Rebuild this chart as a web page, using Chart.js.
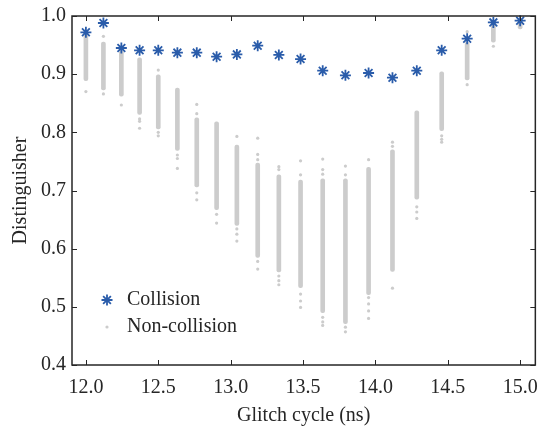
<!DOCTYPE html>
<html>
<head>
<meta charset="utf-8">
<script src="https://cdn.jsdelivr.net/npm/chart.js@4.4.0/dist/chart.umd.min.js"></script>
<style>
  html, body { margin: 0; padding: 0; background: #fff; }
</style>
</head>
<body>
<canvas id="myChart" width="549" height="426"></canvas>
<script>
// glitch cycle of each tested clock (ns)
const glitchCycle = [12.000, 12.121, 12.245, 12.371, 12.500, 12.632, 12.766, 12.903, 13.043, 13.187,
  13.333, 13.483, 13.636, 13.793, 13.953, 14.118, 14.286, 14.458, 14.634, 14.815, 15.000];

// distinguisher of the collision key
const collision = [0.972, 0.988, 0.945, 0.941, 0.941, 0.937, 0.937, 0.930, 0.934, 0.949,
  0.933, 0.926, 0.906, 0.898, 0.902, 0.894, 0.906, 0.941, 0.961, 0.989, 0.992];

// dense range of the non-collision keys
const nonCollisionHigh = [0.968, 0.955, 0.940, 0.928, 0.899, 0.876, 0.825, 0.818, 0.778, 0.747,
  0.727, 0.718, 0.720, 0.720, 0.740, 0.770, 0.837, 0.904, 0.955, 0.990, 0.995];
const nonCollisionLow = [0.889, 0.873, 0.862, 0.831, 0.806, 0.769, 0.706, 0.667, 0.640, 0.585,
  0.560, 0.533, 0.490, 0.471, 0.521, 0.561, 0.685, 0.803, 0.890, 0.955, 0.978];

// isolated non-collision values outside the dense range
const nonCollisionStray = [
  [0.870],
  [0.965, 0.866],
  [0.847],
  [0.823, 0.819, 0.807],
  [0.907, 0.800, 0.794],
  [0.761, 0.755, 0.738],
  [0.848, 0.832, 0.696, 0.684],
  [0.659, 0.644],
  [0.793, 0.634, 0.625, 0.613],
  [0.790, 0.762, 0.753, 0.578, 0.565],
  [0.741, 0.736, 0.553, 0.545, 0.538],
  [0.751, 0.727, 0.522, 0.510, 0.499],
  [0.754, 0.736, 0.728, 0.482, 0.474, 0.468],
  [0.742, 0.727, 0.465, 0.457],
  [0.753, 0.516, 0.505, 0.493, 0.480],
  [0.783, 0.776, 0.532],
  [0.672, 0.663, 0.652],
  [0.794, 0.788, 0.783],
  [0.973, 0.882],
  [0.948],
  []
];

const xTicks = [12.0, 12.5, 13.0, 13.5, 14.0, 14.5, 15.0];
const yTicks = [0.4, 0.5, 0.6, 0.7, 0.8, 0.9, 1.0];

const BLUE = '#2a5caa';
const GRAY = '#cccccc';
const INK = '#262626';
const FONT = "'Liberation Serif', 'Times New Roman', serif";

Chart.defaults.font.family = FONT;
Chart.defaults.font.size = 20;
Chart.defaults.color = INK;

const strayPts = [];
nonCollisionStray.forEach((list, i) => {
  list.forEach(v => strayPts.push({x: glitchCycle[i], y: v}));
});

function drawStar(ctx, x, y, r) {
  ctx.beginPath();
  ctx.moveTo(x - r, y); ctx.lineTo(x + r, y);
  ctx.moveTo(x, y - r); ctx.lineTo(x, y + r);
  const d = r * Math.SQRT1_2;
  ctx.moveTo(x - d, y - d); ctx.lineTo(x + d, y + d);
  ctx.moveTo(x - d, y + d); ctx.lineTo(x + d, y - d);
  ctx.stroke();
}

// frame with inward ticks + legend inside the plot
const frame = {
  id: 'frame',
  afterDraw(chart) {
    const {ctx, chartArea: a, scales: {x, y}} = chart;
    ctx.save();
    ctx.strokeStyle = INK;
    ctx.lineWidth = 1.5;
    ctx.strokeRect(a.left, a.top, a.right - a.left, a.bottom - a.top);
    ctx.lineWidth = 1;
    ctx.beginPath();
    xTicks.forEach(v => {
      const p = Math.round(x.getPixelForValue(v)) + 0.5;
      ctx.moveTo(p, a.bottom); ctx.lineTo(p, a.bottom - 5);
      ctx.moveTo(p, a.top); ctx.lineTo(p, a.top + 5);
    });
    yTicks.forEach(v => {
      const p = Math.round(y.getPixelForValue(v)) + 0.5;
      ctx.moveTo(a.left, p); ctx.lineTo(a.left + 5, p);
      ctx.moveTo(a.right, p); ctx.lineTo(a.right - 5, p);
    });
    ctx.stroke();

    // legend
    const lx = a.left + 35, ly = a.bottom - 65;
    ctx.strokeStyle = BLUE;
    ctx.lineWidth = 1.8;
    drawStar(ctx, lx, ly, 5.5);
    ctx.fillStyle = GRAY;
    ctx.beginPath();
    ctx.arc(lx, ly + 27, 1.6, 0, Math.PI * 2);
    ctx.fill();
    ctx.fillStyle = INK;
    ctx.font = '20px ' + FONT;
    ctx.textBaseline = 'middle';
    ctx.fillText('Collision', lx + 20, ly);
    ctx.fillText('Non-collision', lx + 20, ly + 27);
    ctx.restore();
  }
};

const ctx = document.getElementById('myChart');

new Chart(ctx, {
  type: 'scatter',
  data: {
    datasets: [
      {
        label: 'Collision',
        data: glitchCycle.map((g, i) => ({x: g, y: collision[i]})),
        pointStyle: 'star',
        pointRadius: 5.5,
        pointBorderWidth: 1.8,
        borderColor: BLUE,
        backgroundColor: BLUE,
        clip: false
      },
      {
        label: 'Non-collision',
        data: strayPts,
        pointStyle: 'circle',
        pointRadius: 1.6,
        pointBorderWidth: 0,
        backgroundColor: GRAY,
        borderColor: GRAY
      },
      {
        type: 'bar',
        label: 'Non-collision range',
        data: glitchCycle.map((g, i) => ({x: g, y: [nonCollisionLow[i], nonCollisionHigh[i]]})),
        backgroundColor: GRAY,
        borderWidth: 0,
        borderSkipped: false,
        borderRadius: 2,
        barThickness: 4,
        grouped: false
      }
    ]
  },
  options: {
    responsive: false,
    animation: false,
    devicePixelRatio: 1,
    layout: { padding: { left: 0, top: 10, right: 11, bottom: 0 } },
    plugins: {
      legend: { display: false },
      tooltip: { enabled: false }
    },
    scales: {
      x: {
        type: 'linear',
        min: 11.904,
        max: 15.105,
        offset: false,
        grid: { display: false, drawTicks: false, offset: false },
        border: { display: false },
        afterBuildTicks: (s) => { s.ticks = xTicks.map(v => ({value: v})); },
        afterFit: (s) => { s.height = 61; },
        ticks: {
          padding: 11,
          color: INK,
          font: { family: FONT, size: 20 },
          maxRotation: 0,
          callback: (v) => Number(v).toFixed(1)
        },
        title: {
          display: true,
          text: 'Glitch cycle (ns)',
          color: INK,
          font: { family: FONT, size: 20, lineHeight: 1 },
          padding: { top: 3, bottom: 0 }
        }
      },
      y: {
        type: 'linear',
        min: 0.4,
        max: 1.0,
        grid: { display: false, drawTicks: false },
        border: { display: false },
        afterBuildTicks: (s) => { s.ticks = yTicks.map(v => ({value: v})); },
        afterFit: (s) => { s.width = 72; },
        ticks: {
          padding: 6,
          color: INK,
          font: { family: FONT, size: 20, lineHeight: 1 },
          callback: (v) => Number(v).toFixed(1)
        },
        title: {
          display: true,
          text: 'Distinguisher',
          color: INK,
          font: { family: FONT, size: 20 },
          padding: { top: 9, bottom: 0 }
        }
      }
    }
  },
  plugins: [frame]
});
</script>
</body>
</html>
